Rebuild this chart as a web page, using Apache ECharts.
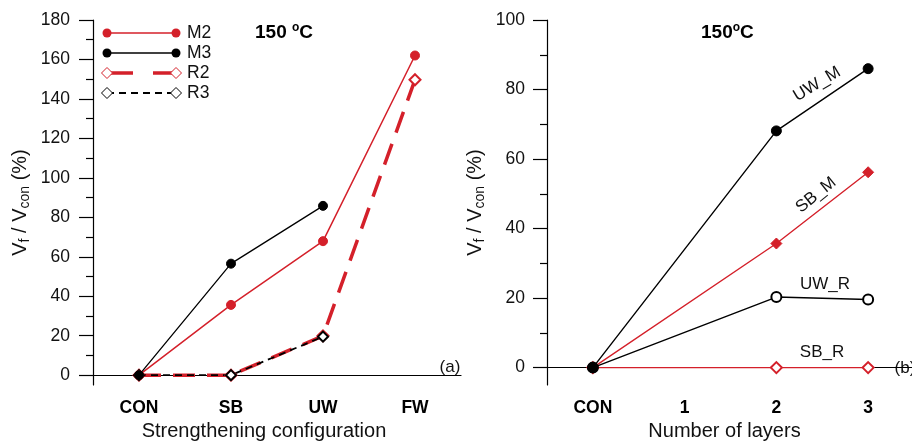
<!DOCTYPE html>
<html>
<head>
<meta charset="utf-8">
<script src="https://cdn.jsdelivr.net/npm/echarts@6/dist/echarts.min.js"></script>
<style>
  html, body { margin: 0; padding: 0; background: #fff; }
  #chart { width: 912px; height: 444px; }
</style>
</head>
<body>
<div id="chart"></div>
<script>
// panel (a)
const configs = ["CON", "SB", "UW", "FW"];
const m2 = [0, 35.6, 67.9, 162];
const m3 = [0, 56.5, 85.8, "-"];
const r2 = [0, 0, 19.9, 149.7];
const r3 = [0, 0, 19.5, "-"];
const ticksA = [0, 20, 40, 60, 80, 100, 120, 140, 160, 180];
const minorA = [10, 30, 50, 70, 90, 110, 130, 150, 170];

// panel (b)
const layers = ["CON", "1", "2", "3"];
const uwM = [0, "-", 68.1, 86];
const sbM = [0, "-", 35.7, 56.2];
const uwR = [0, "-", 20.3, 19.6];
const sbR = [0, "-", 0, 0];
const ticksB = [0, 20, 40, 60, 80, 100];
const minorB = [10, 30, 50, 70, 90];

const RED = "#d4202a";
const FONT = "Liberation Sans, Arial, sans-serif";

const chart = echarts.init(document.getElementById("chart"));

function xAxes(gridIndex, cats, name, pad) {
  return [
    {
      gridIndex, type: "category", data: cats, position: "bottom", boundaryGap: true,
      axisLine: { lineStyle: { color: "#000", width: 1.2 } },
      axisTick: { alignWithLabel: true, length: 8, lineStyle: { color: "#000", width: 1.2 } },
      axisLabel: { fontFamily: FONT, fontSize: 17.5, fontWeight: "bold", color: "#000", margin: 14 },
      name, nameLocation: "middle", nameGap: 36,
      nameTextStyle: { fontFamily: FONT, fontSize: 20, color: "#111", padding: pad }
    },
    {
      gridIndex, type: "category", data: cats, position: "bottom", boundaryGap: true,
      axisLine: { show: false },
      axisTick: { alignWithLabel: true, inside: true, length: 8, lineStyle: { color: "#000", width: 1.2 } },
      axisLabel: { show: false }
    }
  ];
}

function yAxes(gridIndex, max, ticks, minor, margin, gap) {
  return [
    {
      gridIndex, type: "value", min: -5, max, position: "left",
      splitLine: { show: false },
      axisLine: { show: true, lineStyle: { color: "#000", width: 1.2 } },
      axisTick: { show: true, customValues: ticks, length: 14, lineStyle: { color: "#000", width: 1.2 } },
      axisLabel: { customValues: ticks, fontFamily: FONT, fontSize: 17.5, color: "#111", margin },
      name: "V{s|f} / V{s|con} (%)", nameLocation: "middle", nameGap: gap,
      nameTextStyle: {
        fontFamily: FONT, fontSize: 20, color: "#111", lineHeight: 24,
        rich: { s: { fontFamily: FONT, fontSize: 14, color: "#111", verticalAlign: "bottom", lineHeight: 24 } }
      }
    },
    {
      gridIndex, type: "value", min: -5, max, position: "left",
      splitLine: { show: false },
      axisLine: { show: false },
      axisTick: { show: true, customValues: minor, length: 7, lineStyle: { color: "#000", width: 1.2 } },
      axisLabel: { show: false }
    }
  ];
}

function line(name, data, xi, color, width, dash, symbol, size) {
  return {
    name, type: "line", data, xAxisIndex: xi, yAxisIndex: xi,
    connectNulls: true, symbol, symbolSize: size,
    lineStyle: { color, width, type: dash },
    itemStyle: { color, borderColor: color, borderWidth: 1 }
  };
}

function diamond(cx, cy, r) {
  return [[cx, cy - r], [cx + r, cy], [cx, cy + r], [cx - r, cy]];
}

function legendRow(y, label, color, width, dash, marker) {
  const items = [
    { type: "line", shape: { x1: 107, y1: y, x2: 176, y2: y },
      style: { stroke: color, lineWidth: width, lineDash: dash } }
  ];
  [107, 176].forEach((x) => {
    if (marker === "circle") {
      items.push({ type: "circle", shape: { cx: x, cy: y, r: 4.5 }, style: { fill: color } });
    } else {
      items.push({ type: "polygon", shape: { points: diamond(x, y, 5.5) },
        style: { fill: "#fff", stroke: color, lineWidth: 1 } });
    }
  });
  items.push({ type: "text", x: 187, y, style: { text: label, font: "17.5px " + FONT, fill: "#111", verticalAlign: "middle" } });
  return items;
}

function note(x, y, text, deg) {
  return {
    type: "text", x, y, rotation: (deg || 0) * Math.PI / 180,
    style: { text, font: "17px " + FONT, fill: "#111", align: "center", verticalAlign: "middle" }
  };
}

function heading(x, y, text) {
  return {
    type: "text", x, y,
    style: {
      text, verticalAlign: "middle",
      rich: {
        b: { fontFamily: FONT, fontSize: 19, fontWeight: "bold", fill: "#000", lineHeight: 22 },
        o: { fontFamily: FONT, fontSize: 12, fontWeight: "bold", fill: "#000", verticalAlign: "top", lineHeight: 22 }
      }
    }
  };
}

chart.setOption({
  animation: false,
  backgroundColor: "#fff",
  grid: [
    { left: 93, top: 20, width: 368, height: 365, outerBoundsMode: "none" },
    { left: 547, top: 20, width: 367, height: 365, outerBoundsMode: "none" }
  ],
  xAxis: [
    ...xAxes(0, configs, "Strengthening configuration", [0, 26, 0, 0]),
    ...xAxes(1, layers, "Number of layers", [0, 12, 0, 0])
  ],
  yAxis: [
    ...yAxes(0, 180, ticksA, minorA, 23, 61),
    ...yAxes(1, 100, ticksB, minorB, 22, 60)
  ],
  series: [
    line("R2", r2, 0, RED, 3.5, [22, 12], "emptyDiamond", 11),
    line("R3", r3, 0, "#000", 1.8, [7, 5], "emptyDiamond", 10),
    line("M2", m2, 0, RED, 1.5, "solid", "circle", 9),
    line("M3", m3, 0, "#000", 1.3, "solid", "circle", 9),
    line("SB_R", sbR, 2, RED, 1.4, "solid", "emptyDiamond", 11),
    line("SB_M", sbM, 2, RED, 1.4, "solid", "diamond", 11),
    line("UW_R", uwR, 2, "#000", 1.4, "solid", "emptyCircle", 10),
    line("UW_M", uwM, 2, "#000", 1.4, "solid", "circle", 10)
  ],
  graphic: [
    ...legendRow(33, "M2", RED, 1.5, null, "circle"),
    ...legendRow(53, "M3", "#000", 1.3, null, "circle"),
    ...legendRow(73, "R2", RED, 3.5, [26, 20], "diamond"),
    ...legendRow(93, "R3", "#000", 1.8, [7, 5], "diamond"),
    heading(255, 33, "{b|150 }{o|o}{b|C}"),
    heading(701, 33, "{b|150}{o|o}{b|C}"),
    note(450, 367, "(a)"),
    note(905, 368, "(b)"),
    note(817, 84, "UW_M", 31),
    note(816, 195, "SB_M", 39),
    note(825, 284, "UW_R"),
    note(822, 352, "SB_R")
  ]
});
</script>
</body>
</html>
